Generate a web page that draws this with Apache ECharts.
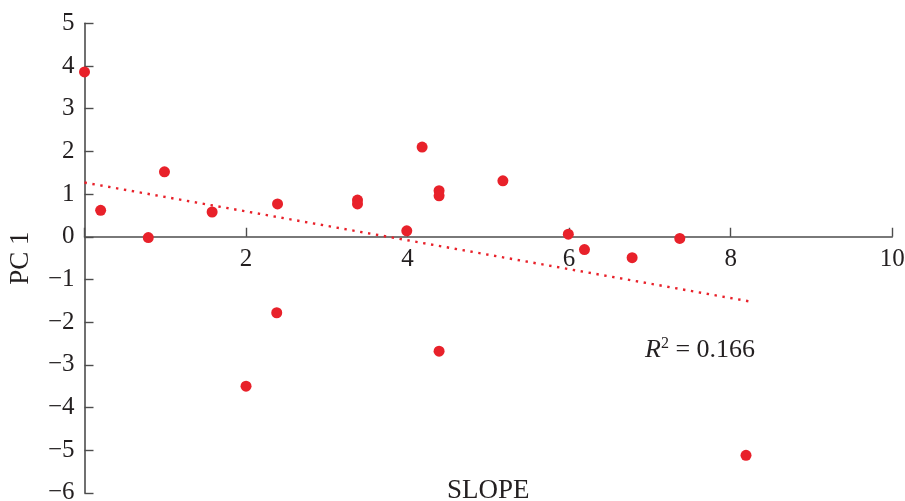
<!DOCTYPE html>
<html>
<head>
<meta charset="utf-8">
<script src="https://cdn.jsdelivr.net/npm/echarts@6/dist/echarts.min.js"></script>
<style>
html,body{margin:0;padding:0;background:#fff;}
#chart{width:905px;height:501px;}
</style>
</head>
<body>
<div id="chart"></div>
<script>
// Data
var slopeValues = [0.0, 0.2, 0.79, 0.99, 1.58, 2.0, 2.39, 2.38, 3.38, 3.38, 3.99, 4.18, 4.39, 4.39, 4.39, 5.18, 5.99, 6.19, 6.78, 7.37, 8.19];
var pc1Values   = [3.86, 0.62, -0.02, 1.52, 0.58, -3.50, 0.77, -1.78, 0.86, 0.77, 0.14, 2.10, 1.08, 0.96, -2.68, 1.31, 0.06, -0.30, -0.49, -0.04, -5.12];
var trendX = [0.0, 8.22];
var trendY = [1.27, -1.51];
var xTickValues = [2, 4, 6, 8, 10];
var yTickValues = [5, 4, 3, 2, 1, 0, -1, -2, -3, -4, -5, -6];
var r2Label = '0.166';

var FONT = '"Liberation Serif", "DejaVu Serif", serif';
var RED = '#e8212a';
var AXIS = '#4d4d4d';
var TXT = '#231f20';

function fmtNum(v) {
  return v < 0 ? '\u2212' + Math.abs(v) : String(v);
}

var points = slopeValues.map(function (x, i) { return [x, pc1Values[i]]; });
var trend = trendX.map(function (x, i) { return [x, trendY[i]]; });

var GRID_TOP = 23.3, GRID_BOTTOM = 8.1;
var plotH = 501 - GRID_TOP - GRID_BOTTOM;
// distance from plot bottom up to y = 0 (derived from the y-axis range)
var yMin = -6, yMax = 5;
var zeroOffset = plotH * (0 - yMin) / (yMax - yMin);

var chart = echarts.init(document.getElementById('chart'));
chart.setOption({
  animation: false,
  backgroundColor: '#fff',
  grid: { left: 84.5, right: 12.8, top: GRID_TOP, bottom: GRID_BOTTOM, containLabel: false, outerBoundsMode: 'none' },
  xAxis: {
    type: 'value', min: 0, max: 10, interval: 2, position: 'bottom', offset: -zeroOffset,
    name: 'SLOPE', nameLocation: 'middle', nameGap: 241,
    nameTextStyle: { fontFamily: FONT, fontSize: 27, color: TXT },
    axisLine: { onZero: false, lineStyle: { color: AXIS, width: 1.6 } },
    axisTick: { show: true, inside: true, length: 9, lineStyle: { color: AXIS, width: 1.4 } },
    axisLabel: {
      fontFamily: FONT, fontSize: 25, color: TXT, margin: 10, hideOverlap: false,
      formatter: function (v) { return xTickValues.indexOf(v) >= 0 ? fmtNum(v) : ''; }
    },
    splitLine: { show: false }
  },
  yAxis: {
    type: 'value', min: yMin, max: yMax, interval: 1,
    name: 'PC 1', nameLocation: 'middle', nameGap: 50, nameRotate: 90,
    nameTextStyle: { fontFamily: FONT, fontSize: 27, color: TXT },
    axisLine: { onZero: false, lineStyle: { color: AXIS, width: 1.6 } },
    axisTick: { show: true, inside: true, length: 9, lineStyle: { color: AXIS, width: 1.4 } },
    axisLabel: {
      fontFamily: FONT, fontSize: 25, color: TXT, margin: 10,
      formatter: function (v) { return yTickValues.indexOf(v) >= 0 ? fmtNum(v) : ''; }
    },
    splitLine: { show: false }
  },
  series: [
    {
      type: 'line', data: trend, symbol: 'none', silent: true, z: 1,
      lineStyle: { color: RED, width: 2.4, type: [2.4, 5.6] }
    },
    {
      type: 'scatter', data: points, symbol: 'circle', symbolSize: 11, z: 3,
      itemStyle: { color: RED, opacity: 1 }
    }
  ],
  graphic: [
    {
      type: 'text', left: 645, top: 336, z: 10,
      style: {
        text: '{i|R}{s|2}{n| = ' + r2Label + '}',
        rich: {
          i: { fontFamily: FONT, fontSize: 26, fontStyle: 'italic', fill: TXT, color: TXT },
          s: { fontFamily: FONT, fontSize: 16, fill: TXT, color: TXT, verticalAlign: 'top', padding: [0, 0, 12, 0] },
          n: { fontFamily: FONT, fontSize: 26, fill: TXT, color: TXT }
        }
      }
    }
  ]
});
</script>
</body>
</html>
